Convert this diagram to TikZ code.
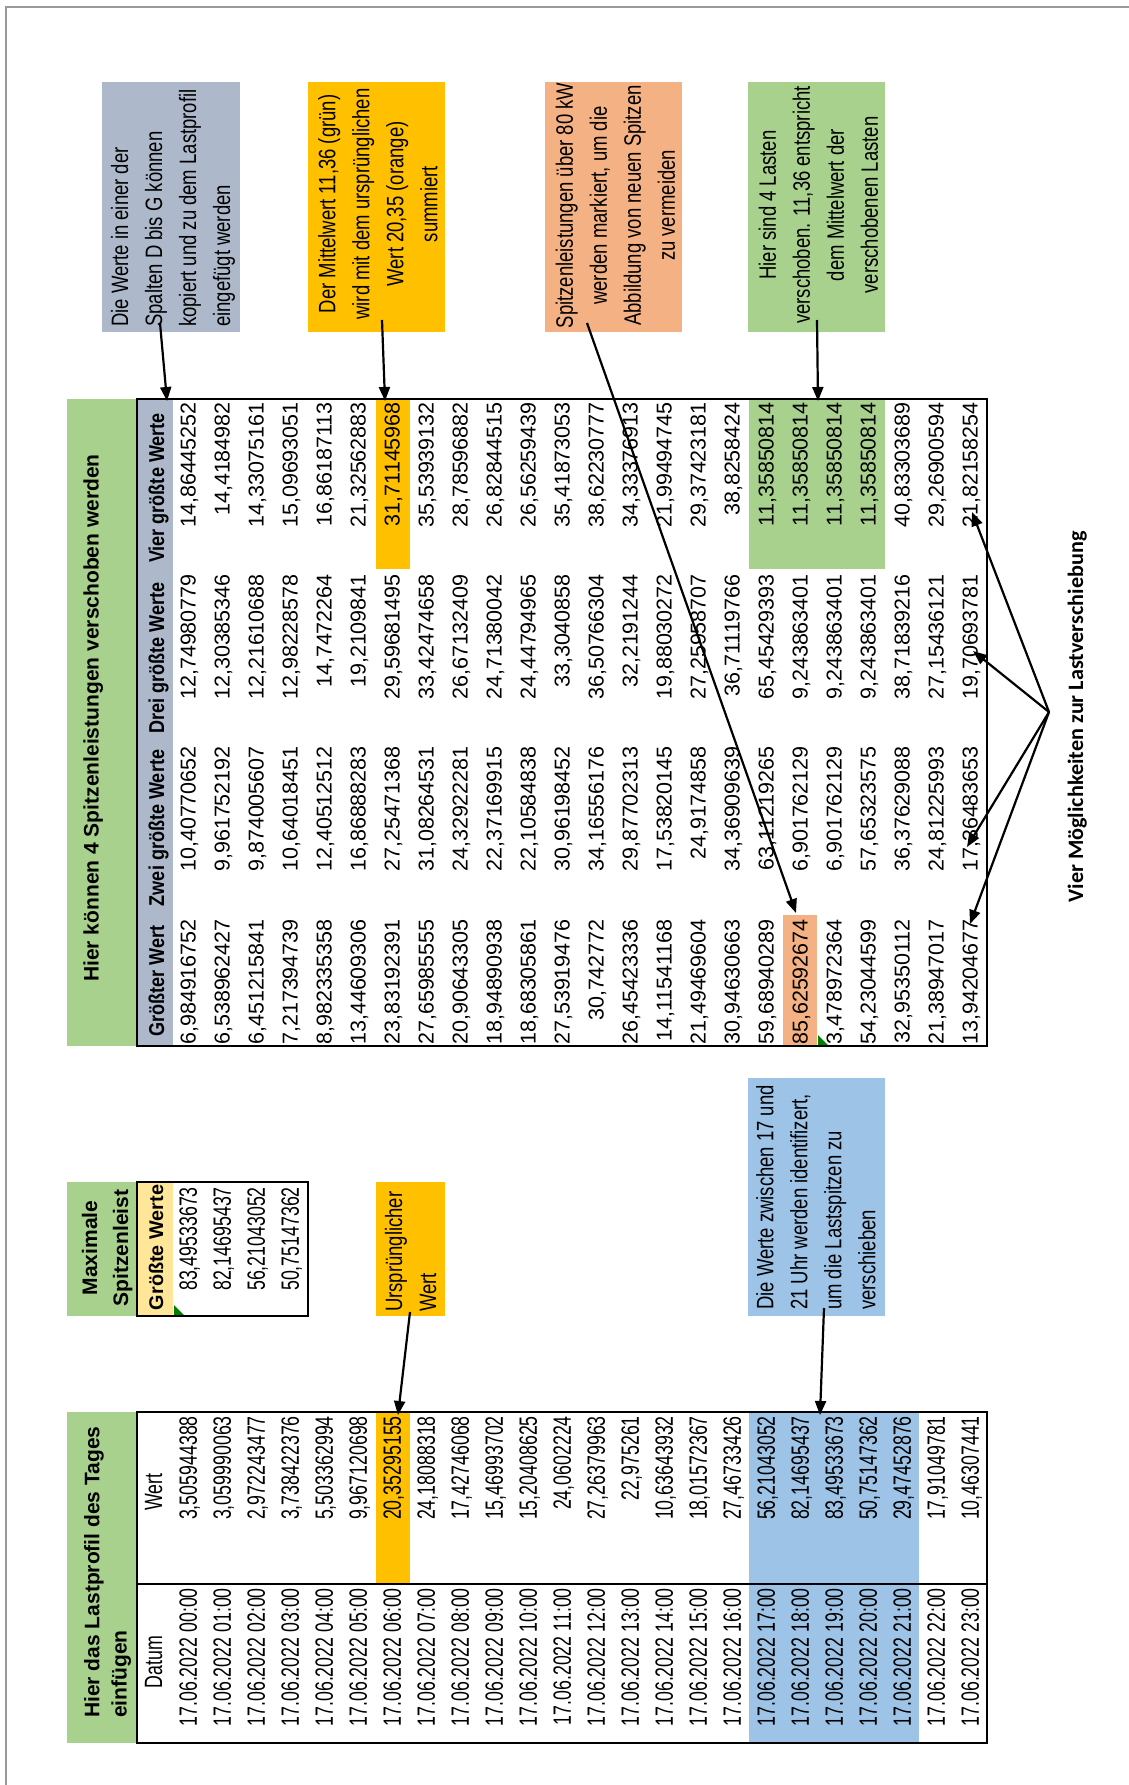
\documentclass[tikz,border=0pt]{standalone}
\usepackage{fontspec}
\setmainfont{Liberation Sans}
\newfontfamily\calib{Carlito}
\usepackage{graphicx}
\usetikzlibrary{arrows.meta}
\definecolor{hgreen}{HTML}{A9D18E}
\definecolor{hgray}{HTML}{ADB9CA}
\definecolor{horange}{HTML}{FFC000}
\definecolor{hsalmon}{HTML}{F4B183}
\definecolor{hblue}{HTML}{9DC3E6}
\definecolor{hyellow}{HTML}{FFE699}
\definecolor{xlgreen}{HTML}{008000}
\definecolor{pframe}{HTML}{999999}
\newcommand\nl[1]{\scalebox{0.71}[1]{#1}}
\newcommand\an[1]{\scalebox{0.78}[1]{#1}}
\newcommand\hc[1]{\scalebox{0.84}[1]{#1}}
\begin{document}
\begin{tikzpicture}[x=1pt,y=-1pt,
  cellL/.style={rotate=90,inner sep=0pt,anchor=east,text height=17.9pt,text depth=0pt,font=\fontsize{25}{30}\selectfont},
  cellR/.style={rotate=90,inner sep=0pt,anchor=east,text height=15.4pt,text depth=0pt,font=\fontsize{21.5}{26}\selectfont},
  hbold/.style={rotate=90,inner sep=0pt,font=\bfseries\fontsize{21}{25}\selectfont},
  colhdr/.style={rotate=90,inner sep=0pt,anchor=base,font=\bfseries\fontsize{19.8}{24}\selectfont},
  colhdrR/.style={rotate=90,inner sep=0pt,anchor=base,font=\bfseries\fontsize{21.5}{25}\selectfont},
  ann/.style={rotate=90,inner sep=0pt,font=\fontsize{23.7}{34}\selectfont},
  fillbox/.style={inner sep=0pt,outer sep=0pt,draw=none},
  arr/.style={line width=2.2pt,-{Triangle[length=14pt,width=11pt]}},
  tbl/.style={draw=black,line width=2.6pt,fill=none,inner sep=0pt},
]
\useasboundingbox (0,0) rectangle (1129,1785);
\fill[white] (0,0) rectangle (1129,1785);
\draw[pframe,line width=2pt] (6,7) rectangle (1140,1800);

% ---------- fills ----------
\node[fillbox,fill=hgreen,minimum width=69pt,minimum height=331pt] (ghL) at (101.5,1577.5) {};
\node[fillbox,fill=hgreen,minimum width=69pt,minimum height=134pt] (ghM) at (101.5,1249) {};
\node[fillbox,fill=hgreen,minimum width=69pt,minimum height=647pt] (ghR) at (101.5,722.5) {};

\node[fillbox,fill=horange,minimum width=33.9pt,minimum height=172pt] (fLo) at (393.35,1498) {};
\node[fillbox,fill=hblue,minimum width=169.5pt,minimum height=331pt] (fLb) at (834.05,1577.5) {};
\node[fillbox,fill=hyellow,minimum width=36pt,minimum height=134pt] (fMy) at (155,1249) {};
\node[fillbox,fill=hgray,minimum width=36pt,minimum height=647pt] (fRh) at (155,722.5) {};
\node[fillbox,fill=horange,minimum width=33.9pt,minimum height=170pt] (fRo) at (393.35,484) {};
\node[fillbox,fill=hgreen,minimum width=135.6pt,minimum height=170pt] (fRg) at (817.1,484) {};
\node[fillbox,fill=hsalmon,minimum width=33.9pt,minimum height=131pt] (fRs) at (800.15,980.5) {};

% annotation boxes
\node[fillbox,fill=hgray,minimum width=138pt,minimum height=250pt] (bGray) at (171,207) {};
\node[fillbox,fill=horange,minimum width=137pt,minimum height=250pt] (bOrange) at (376.5,207) {};
\node[fillbox,fill=hsalmon,minimum width=137pt,minimum height=250pt] (bSalmon) at (613.5,207) {};
\node[fillbox,fill=hgreen,minimum width=137pt,minimum height=250pt] (bGreen) at (816.5,207) {};
\node[fillbox,fill=horange,minimum width=69pt,minimum height=134pt] (bUrs) at (410.5,1249) {};
\node[fillbox,fill=hblue,minimum width=137pt,minimum height=238pt] (bBlue) at (816.5,1197) {};

% ---------- headers ----------
\node[hbold,anchor=base west] (lh1) at (99.3,1718) {Hier das Lastprofil des Tages};
\node[hbold,anchor=base west] (lh2) at (126.7,1718) {einfügen};
\node[hbold,anchor=base] (mh1) at (97,1248) {Maximale};
\node[hbold,anchor=base] (mh2) at (128,1248) {Spitzenleist};
\node[hbold,anchor=base] (rh) at (98.5,718) {Hier können 4 Spitzenleistungen verschoben werden};

\node[rotate=90,inner sep=0pt,anchor=base,font=\fontsize{25}{30}\selectfont] (dh) at (162,1662) {\nl{Datum}};
\node[rotate=90,inner sep=0pt,anchor=base,font=\fontsize{25}{30}\selectfont] (wh) at (162,1492) {\nl{Wert}};
\node[colhdr] (mch) at (163,1247.5) {Größte Werte};
\node[colhdrR] (ch1) at (164,981) {\hc{Größter Wert}};
\node[colhdrR] (ch2) at (164,828) {\hc{Zwei größte Werte}};
\node[colhdrR] (ch3) at (164,658) {\hc{Drei größte Werte}};
\node[colhdrR] (ch4) at (164,488) {\hc{Vier größte Werte}};

% ---------- left table data ----------
\foreach \kk/\hh/\vv in {0/00/3{,}505944388,1/01/3{,}059990063,2/02/2{,}972243477,3/03/3{,}738422376,
  4/04/5{,}503362994,5/05/9{,}967120698,6/06/20{,}35295155,7/07/24{,}18088318,8/08/17{,}42746068,
  9/09/15{,}46993702,10/10/15{,}20408625,11/11/24{,}0602224,12/12/27{,}26379963,13/13/22{,}975261,
  14/14/10{,}63643932,15/15/18{,}01572367,16/16/27{,}46733426,17/17/56{,}21043052,18/18/82{,}14695437,
  19/19/83{,}49533673,20/20/50{,}75147362,21/21/29{,}47452876,22/22/17{,}91049781,23/23/10{,}46307441}{
  \node[cellL] (ld\kk) at ({188+34*\kk},1588) {\nl{17.06.2022 \hh:00}};
  \node[cellL] (lv\kk) at ({188+34*\kk},1416) {\nl{\vv}};
}

% ---------- middle table data ----------
\foreach \kk/\vv in {0/83{,}49533673,1/82{,}14695437,2/56{,}21043052,3/50{,}75147362}{
  \node[cellL] (mv\kk) at ({188+34*\kk},1187) {\nl{\vv}};
}

% ---------- right table data ----------
\foreach \kk/\ga/\gb/\gc/\gd in {
0/6{,}984916752/10{,}40770652/12{,}74980779/14{,}86445252,
1/6{,}538962427/9{,}961752192/12{,}30385346/14{,}4184982,
2/6{,}451215841/9{,}874005607/12{,}21610688/14{,}33075161,
3/7{,}217394739/10{,}64018451/12{,}98228578/15{,}09693051,
4/8{,}982335358/12{,}40512512/14{,}7472264/16{,}86187113,
5/13{,}44609306/16{,}86888283/19{,}2109841/21{,}32562883,
6/23{,}83192391/27{,}25471368/29{,}59681495/31{,}71145968,
7/27{,}65985555/31{,}08264531/33{,}42474658/35{,}53939132,
8/20{,}90643305/24{,}32922281/26{,}67132409/28{,}78596882,
9/18{,}94890938/22{,}37169915/24{,}71380042/26{,}82844515,
10/18{,}68305861/22{,}10584838/24{,}44794965/26{,}56259439,
11/27{,}53919476/30{,}96198452/33{,}3040858/35{,}41873053,
12/30{,}742772/34{,}16556176/36{,}50766304/38{,}62230777,
13/26{,}45423336/29{,}87702313/32{,}2191244/34{,}33376913,
14/14{,}11541168/17{,}53820145/19{,}88030272/21{,}99494745,
15/21{,}49469604/24{,}9174858/27{,}25958707/29{,}37423181,
16/30{,}94630663/34{,}36909639/36{,}71119766/38{,}8258424,
17/59{,}68940289/63{,}11219265/65{,}45429393/11{,}35850814,
18/85{,}62592674/6{,}901762129/9{,}243863401/11{,}35850814,
19/3{,}478972364/6{,}901762129/9{,}243863401/11{,}35850814,
20/54{,}23044599/57{,}65323575/9{,}243863401/11{,}35850814,
21/32{,}95350112/36{,}37629088/38{,}71839216/40{,}83303689,
22/21{,}38947017/24{,}81225993/27{,}15436121/29{,}26900594,
23/13{,}94204677/17{,}36483653/19{,}70693781/21{,}82158254}{
  \node[cellR] (ra\kk) at ({188+34*\kk},919) {\ga};
  \node[cellR] (rb\kk) at ({188+34*\kk},746) {\gb};
  \node[cellR] (rc\kk) at ({188+34*\kk},574) {\gc};
  \node[cellR] (rd\kk) at ({188+34*\kk},402) {\gd};
}

% ---------- annotation texts ----------
\node[ann,anchor=west] (tGray) at (172.2,327) {\an{\begin{tabular}{@{}l@{}}Die Werte in einer der\\Spalten D bis G können\\kopiert und zu dem Lastprofil\\eingefügt werden\end{tabular}}};
\node[ann] (tOrange) at (379.5,204) {\an{\begin{tabular}{@{}c@{}}Der Mittelwert 11,36 (grün)\\wird mit dem ursprünglichen\\Wert 20,35 (orange)\\summiert\end{tabular}}};
\node[ann] (tSalmon) at (617,205.5) {\an{\begin{tabular}{@{}c@{}}Spitzenleistungen über 80 kW\\werden markiert, um die\\Abbildung von neuen Spitzen\\zu vermeiden\end{tabular}}};
\node[ann] (tGreen) at (820,205) {\an{\begin{tabular}{@{}c@{}}Hier sind 4 Lasten\\verschoben. 11,36 entspricht\\dem Mittelwert der\\verschobenen Lasten\end{tabular}}};
\node[ann,anchor=west] (tUrs) at (412.2,1312) {\an{\begin{tabular}{@{}l@{}}Ursprünglicher\\Wert\end{tabular}}};
\node[ann,anchor=west] (tBlue) at (817.5,1310) {\an{\begin{tabular}{@{}l@{}}Die Werte zwischen 17 und\\21 Uhr werden identifizert,\\um die Lastspitzen zu\\verschieben\end{tabular}}};

\node[rotate=90,inner sep=0pt,anchor=base,font=\calib\bfseries\fontsize{22}{26}\selectfont] (vm) at (1083,717) {\resizebox{371pt}{\height}{Vier Möglichkeiten zur Lastverschiebung}};

% ---------- green indicator triangles ----------
\fill[xlgreen] (174,1315) -- (174,1305) -- (184,1315) -- cycle;
\fill[xlgreen] (818,1045) -- (818,1035) -- (828,1045) -- cycle;

% ---------- table borders ----------
\node[tbl,minimum width=850pt,minimum height=331pt] (tabL) at (562,1577.5) {};
\draw[line width=1.5pt] (137,1584) -- (987,1584);
\node[tbl,minimum width=171pt,minimum height=134pt] (tabM) at (222.5,1249) {};
\node[tbl,minimum width=850pt,minimum height=647pt] (tabR) at (562,722.5) {};

% ---------- connectors ----------
\coordinate (s1) at (160,323);  \coordinate (e1) at (167,401);
\coordinate (s2) at (382,320);  \coordinate (e2) at (385,401);
\coordinate (s3) at (587,323);  \coordinate (e3) at (796,913);
\coordinate (s4) at (817,320);  \coordinate (e4) at (818,401);
\coordinate (s5) at (410,1312); \coordinate (e5) at (398,1415);
\coordinate (s6) at (824,1308); \coordinate (e6) at (820,1415);
\draw[arr] (s1) -- (e1);
\draw[arr] (s2) -- (e2);
\draw[arr] (s3) -- (e3);
\draw[arr] (s4) -- (e4);
\draw[arr] (s5) -- (e5);
\draw[arr] (s6) -- (e6);

\coordinate (hub) at (1049,712);
\coordinate (h1) at (972,512);
\coordinate (h2) at (973,651);
\coordinate (h3) at (967,847);
\coordinate (h4) at (970,924);
\draw[arr] (hub) -- (h1);
\draw[arr] (hub) -- (h2);
\draw[arr] (hub) -- (h3);
\draw[arr] (hub) -- (h4);
\end{tikzpicture}
\end{document}
